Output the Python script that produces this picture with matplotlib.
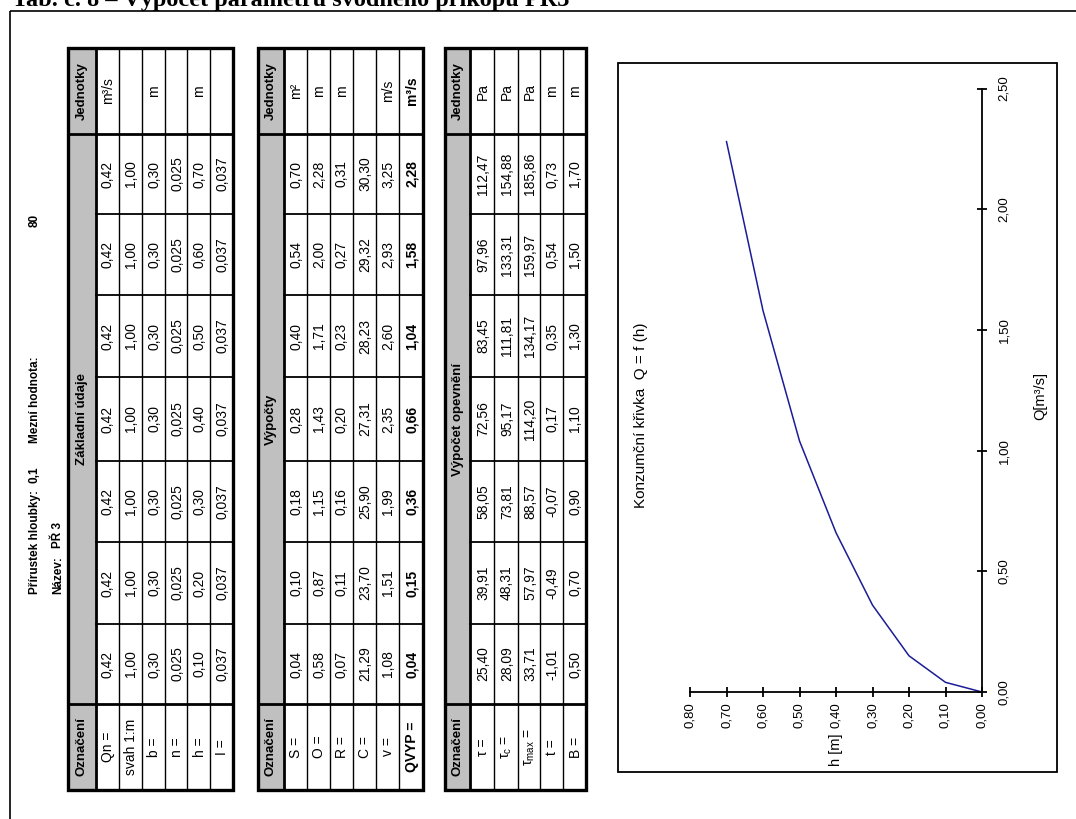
import matplotlib
matplotlib.use("Agg")
import matplotlib.pyplot as plt
from matplotlib.patches import Rectangle
from matplotlib import font_manager as fm
from matplotlib.ticker import FixedLocator, FuncFormatter

# ---------------- data ----------------
h_vals = [0.10, 0.20, 0.30, 0.40, 0.50, 0.60, 0.70]
qn_vals = [0.42, 0.42, 0.42, 0.42, 0.42, 0.42, 0.42]
svah_vals = [1.00, 1.00, 1.00, 1.00, 1.00, 1.00, 1.00]
b_vals = [0.30, 0.30, 0.30, 0.30, 0.30, 0.30, 0.30]
n_vals = [0.025, 0.025, 0.025, 0.025, 0.025, 0.025, 0.025]
i_vals = [0.037, 0.037, 0.037, 0.037, 0.037, 0.037, 0.037]

s_vals = [0.04, 0.10, 0.18, 0.28, 0.40, 0.54, 0.70]
o_vals = [0.58, 0.87, 1.15, 1.43, 1.71, 2.00, 2.28]
r_vals = [0.07, 0.11, 0.16, 0.20, 0.23, 0.27, 0.31]
c_vals = [21.29, 23.70, 25.90, 27.31, 28.23, 29.32, 30.30]
v_vals = [1.08, 1.51, 1.99, 2.35, 2.60, 2.93, 3.25]
qvyp_vals = [0.04, 0.15, 0.36, 0.66, 1.04, 1.58, 2.28]

tau_vals = [25.40, 39.91, 58.05, 72.56, 83.45, 97.96, 112.47]
tauc_vals = [28.09, 48.31, 73.81, 95.17, 111.81, 133.31, 154.88]
taumax_vals = [33.71, 57.97, 88.57, 114.20, 134.17, 159.97, 185.86]
t_vals = [-1.01, -0.49, -0.07, 0.17, 0.35, 0.54, 0.73]
bb_vals = [0.50, 0.70, 0.90, 1.10, 1.30, 1.50, 1.70]

curve_h = [0.0] + h_vals
curve_q = [0.0] + qvyp_vals
h_ticks = [0.0, 0.1, 0.2, 0.3, 0.4, 0.5, 0.6, 0.7, 0.8]
q_ticks = [0.0, 0.5, 1.0, 1.5, 2.0, 2.5]

# ---------------- fonts ----------------
names = {f.name for f in fm.fontManager.ttflist}
if "Liberation Sans Narrow" in names:
    NARROW = "Liberation Sans Narrow"
    FS = 11.5
    HFS = 10.5
else:
    NARROW = "Liberation Sans"
    FS = 10
    HFS = 8.5
FAM = [NARROW, "Liberation Sans", "DejaVu Sans"]
plt.rcParams["font.family"] = FAM
plt.rcParams["mathtext.fontset"] = "custom"
plt.rcParams["mathtext.rm"] = "Liberation Sans"
plt.rcParams["mathtext.it"] = "Liberation Sans"

def fmt(v, d=2):
    return f"{v:.{d}f}".replace(".", ",")

# ---------------- figure ----------------
W, H = 1076, 819
fig = plt.figure(figsize=(W / 100, H / 100), dpi=100)
bg = fig.add_axes([0, 0, 1, 1])
bg.set_xlim(0, W)
bg.set_ylim(H, 0)
bg.axis("off")

# page title (cut off at the top, as in the scan)
bg.text(12, 6, "Tab. č. 8 – Výpočet parametrů svodného příkopu PŘ3",
        family=["Liberation Serif", "DejaVu Serif"], weight="bold", fontsize=17.5,
        ha="left", va="baseline")
# page frame
bg.add_patch(Rectangle((10, 10.5), 1200, 1000, fill=False, ec="black", lw=1.2))

# header texts (rotated page)
bg.text(35, 594, "Přírustek hloubky:", rotation=90, ha="center", va="bottom",
        weight="bold", fontsize=HFS)
bg.text(35, 483, "0,1", rotation=90, ha="center", va="bottom",
        weight="bold", fontsize=HFS)
bg.text(35, 443, "Mezní hodnota:", rotation=90, ha="center", va="bottom",
        weight="bold", fontsize=HFS)
bg.text(35, 227, "80", rotation=90, ha="center", va="bottom",
        weight="bold", fontsize=HFS)
bg.text(58, 594, "Název:", rotation=90, ha="center", va="bottom",
        weight="bold", fontsize=HFS)
bg.text(58, 548, "PŘ 3", rotation=90, ha="center", va="bottom",
        weight="bold", fontsize=HFS)

GREY = "#c0c0c0"
YB = [48, 134, 214, 295, 377, 461, 542, 624, 704, 790]


def draw_table(xb, title, labels, rows, units, bold_rows=()):
    x0, x1, xe = xb[0], xb[1], xb[-1]
    ytop, ybot = YB[0], YB[-1]
    bg.add_patch(Rectangle((x0, ytop), xe - x0, ybot - ytop, fc="white", ec="none"))
    bg.add_patch(Rectangle((x0, ytop), x1 - x0, ybot - ytop, fc=GREY, ec="none"))
    for xi in xb[2:-1]:
        bg.plot([xi, xi], [ytop, ybot], color="black", lw=1.0)
    for yi in YB[2:-2]:
        bg.plot([x1, xe], [yi, yi], color="black", lw=1.3)
    for yi in (YB[1], YB[-2]):
        bg.plot([x0, xe], [yi, yi], color="black", lw=2.0)
    bg.plot([x1, x1], [ytop, ybot], color="black", lw=2.0)
    bg.add_patch(Rectangle((x0, ytop), xe - x0, ybot - ytop, fill=False,
                           ec="black", lw=2.4))
    xm = (x0 + x1) / 2
    bg.text(xm, (YB[-2] + YB[-1]) / 2, "Označení", rotation=90, ha="center",
            va="center", weight="bold", fontsize=FS - 0.5)
    bg.text(xm, (YB[0] + YB[1]) / 2, "Jednotky", rotation=90, ha="center",
            va="center", weight="bold", fontsize=FS - 0.5)
    bg.text(xm, (YB[1] + YB[-2]) / 2, title, rotation=90, ha="center",
            va="center", weight="bold", fontsize=FS - 0.5)
    for r, lab in enumerate(labels):
        xc = (xb[r + 1] + xb[r + 2]) / 2 + 1
        wt = "bold" if r in bold_rows else "normal"
        bg.text(xc, (YB[-2] + YB[-1]) / 2, lab, rotation=90, ha="center",
                va="center", fontsize=FS, weight=wt)
        for j, s in enumerate(rows[r]):
            yc = (YB[7 - j] + YB[8 - j]) / 2
            bg.text(xc, yc, s, rotation=90, ha="center", va="center",
                    fontsize=FS, weight=wt)
        bg.text(xc, (YB[0] + YB[1]) / 2, units[r], rotation=90, ha="center",
                va="center", fontsize=FS, weight=wt)


draw_table([68, 95.5, 118.5, 142, 165, 187, 210, 233], "Základní údaje",
           ["Qn =", "svah 1:m", "b =", "n =", "h =", "I ="],
           [[fmt(v) for v in qn_vals], [fmt(v) for v in svah_vals],
            [fmt(v) for v in b_vals], [fmt(v, 3) for v in n_vals],
            [fmt(v) for v in h_vals], [fmt(v, 3) for v in i_vals]],
           ["m³/s", "", "m", "", "m", ""])

draw_table([258, 283.5, 307, 329.5, 352.5, 375.5, 399, 423], "Výpočty",
           ["S =", "O =", "R =", "C =", "v =", "QVYP ="],
           [[fmt(v) for v in s_vals], [fmt(v) for v in o_vals],
            [fmt(v) for v in r_vals], [fmt(v) for v in c_vals],
            [fmt(v) for v in v_vals], [fmt(v) for v in qvyp_vals]],
           ["m²", "m", "m", "", "m/s", "m³/s"], bold_rows=(5,))

draw_table([445, 470, 494, 518, 540, 563, 586], "Výpočet opevnění",
           ["τ =", "τ$_c$ =", "τ$_{max}$ =", "t =", "B ="],
           [[fmt(v) for v in tau_vals], [fmt(v) for v in tauc_vals],
            [fmt(v) for v in taumax_vals], [fmt(v) for v in t_vals],
            [fmt(v) for v in bb_vals]],
           ["Pa", "Pa", "Pa", "m", "m"])

# chart frame
bg.add_patch(Rectangle((618, 63), 439, 709, fill=False, ec="black", lw=1.3))

# ---------------- chart (rotated: h horizontal right->left, Q vertical) ----------------
px_h0, px_h8 = 982, 690
py_q0, py_q25 = 692, 88.5
ax = fig.add_axes([px_h8 / W, (H - py_q0) / H, (px_h0 - px_h8) / W,
                   (py_q0 - py_q25) / H])
ax.set_facecolor("none")
ax.set_xlim(0.8, 0.0)
ax.set_ylim(0.0, 2.5)
ax.plot(curve_h, curve_q, color="#1c1c96", lw=1.1, clip_on=False)

for side in ("top", "left"):
    ax.spines[side].set_visible(False)
for side in ("bottom", "right"):
    ax.spines[side].set_linewidth(1.3)

comma = FuncFormatter(lambda v, p: fmt(v))
ax.xaxis.set_major_locator(FixedLocator(h_ticks))
ax.xaxis.set_major_formatter(comma)
ax.yaxis.tick_right()
ax.yaxis.set_major_locator(FixedLocator(q_ticks))
ax.yaxis.set_major_formatter(comma)
ax.tick_params(axis="x", direction="inout", length=7, width=1.3,
               labelrotation=90, pad=4, labelsize=FS - 0.5)
ax.tick_params(axis="y", direction="inout", length=7, width=1.3,
               labelrotation=90, pad=8, labelsize=FS - 0.5)
for lbl in ax.get_yticklabels():
    lbl.set_va("center")

ax.set_xlabel("h [m]", rotation=90, family=["Liberation Sans", "DejaVu Sans"],
              fontsize=10.5)
ax.xaxis.set_label_coords(0.5, -0.068)
ax.xaxis.label.set_va("top")
ax.yaxis.set_label_position("right")
ax.set_ylabel("Q[m³/s]", rotation=90, family=["Liberation Sans", "DejaVu Sans"],
              fontsize=10.5)
ax.yaxis.set_label_coords(1.2, 0.49)
ax.yaxis.label.set_va("center")
ax.yaxis.label.set_ha("center")

bg.text(641, 415, "Konzumční křivka  Q = f (h)", rotation=90, ha="center",
        va="center", family=["Liberation Sans", "DejaVu Sans"], fontsize=11)

fig.savefig("out.png", dpi=100)
